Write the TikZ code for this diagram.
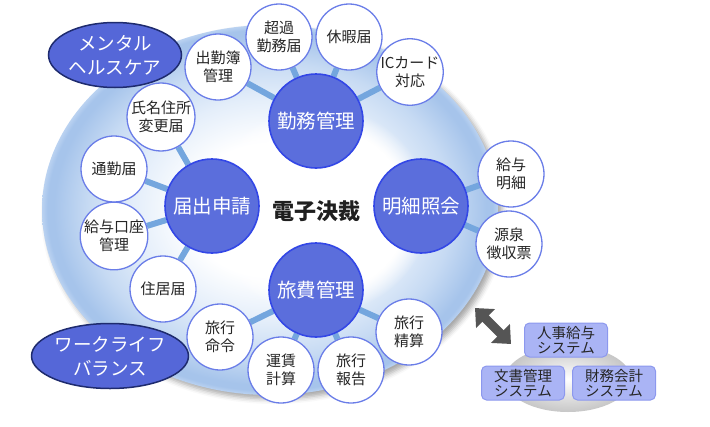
\documentclass[tikz,border=0pt]{standalone}
\usepackage{fontspec}
\setmainfont{Noto Sans CJK JP}
\usetikzlibrary{arrows.meta,shapes.geometric,shadows.blur,fadings}
\definecolor{bigfill}{HTML}{5B6EDC}
\definecolor{bigedge}{HTML}{3347E6}
\definecolor{smalledge}{HTML}{6A7DE8}
\definecolor{linkc}{HTML}{74A6DE}
\definecolor{ovalfill}{HTML}{5567D8}
\definecolor{ovaledge}{HTML}{1E2B6E}
\definecolor{sysfill}{HTML}{AAB4F5}
\definecolor{sysedge}{HTML}{8C98EE}
\definecolor{txt}{HTML}{262626}
\definecolor{arrowc}{HTML}{555555}
\definecolor{ringA}{HTML}{E4EEFA}
\definecolor{ringB}{HTML}{C6DAF3}
\definecolor{ringC}{HTML}{A6C4EB}
\definecolor{ringD}{HTML}{BAD2F1}
\pgfdeclareradialshading{ringshade}{\pgfpointorigin}{color(0bp)=(white); color(9bp)=(white); color(15bp)=(ringA); color(20bp)=(ringB); color(23.7bp)=(ringC); color(24.4bp)=(ringC); color(25bp)=(ringD); color(50bp)=(ringD)}
\pgfdeclarelayer{ringlayer}
\pgfdeclarelayer{linklayer}
\pgfsetlayers{ringlayer,linklayer,main}
\begin{document}
\begin{tikzpicture}[x=1pt,y=-1pt,
  big/.style={circle, fill=bigfill, draw=bigedge, line width=1.6pt, minimum size=94pt, inner sep=0pt, text=white, font=\fontsize{19.5}{22}\selectfont},
  small/.style={circle, fill=white, draw=smalledge, line width=1.3pt, minimum size=66pt, inner sep=0pt, text=txt, align=center, font=\fontsize{15}{18}\selectfont},
  link/.style={draw=linkc, line width=6pt},
  oval/.style={ellipse, fill=ovalfill, draw=ovaledge, line width=1.5pt, minimum width=133pt, minimum height=65pt, inner sep=0pt, text=white, align=center, font=\fontsize{18.5}{24}\selectfont},
  sysbox/.style={rounded corners=5pt, fill=sysfill, draw=sysedge, line width=1pt, minimum width=83pt, minimum height=34pt, inner sep=0pt, align=center, text=txt, font=\fontsize{14.5}{15}\selectfont}]
\useasboundingbox (0,0) rectangle (710,426);
% ring
\begin{pgfonlayer}{ringlayer}
\shade[shading=ringshade, blur shadow={shadow xshift=4pt, shadow yshift=-4pt, shadow blur radius=5pt, shadow opacity=35}] (270,210) ellipse [x radius=228, y radius=185];
\fill[white, path fading=circle with fuzzy edge 20 percent] (318,210) ellipse [x radius=112, y radius=104];
\end{pgfonlayer}
% big circles
\node[big] (kinmu) at (316,121) {勤務管理};
\node[big] (todoke) at (212,206) {届出申請};
\node[big] (meisai) at (421,206) {明細照会};
\node[big] (ryohi) at (316,290) {旅費管理};
% small circles
\node[small] (choka) at (279,37) {超過\\勤務届};
\node[small] (kyuka) at (349,37) {休暇届};
\node[small] (ic) at (410,72) {ICカード\\対応};
\node[small] (shukkin) at (218,67) {出勤簿\\管理};
\node[small] (shimei) at (161,117) {氏名住所\\変更届};
\node[small] (tsukin) at (114,169) {通勤届};
\node[small] (koza) at (114,236) {給与口座\\管理};
\node[small] (jukyo) at (163,289) {住居届};
\node[small] (meirei) at (220,337) {旅行\\命令};
\node[small] (unchin) at (281,370) {運賃\\計算};
\node[small] (hokoku) at (351,370) {旅行\\報告};
\node[small] (seisan) at (409,332) {旅行\\精算};
\node[small] (kyuyo) at (511,174) {給与\\明細};
\node[small] (gensen) at (509,244) {源泉\\徴収票};
% links behind nodes
\begin{pgfonlayer}{linklayer}
\foreach \a/\b in {kinmu/choka, kinmu/kyuka, kinmu/ic, kinmu/shukkin, todoke/shimei, todoke/tsukin, todoke/koza, todoke/jukyo, meisai/kyuyo, meisai/gensen, ryohi/meirei, ryohi/unchin, ryohi/hokoku, ryohi/seisan}
  \draw[link] (\a) -- (\b);
\end{pgfonlayer}
% center
\node[font=\bfseries\fontsize{22}{26}\selectfont, text=black!88] (center) at (316,211) {電子決裁};
% ovals
\node[oval] (mental) at (115,55) {メンタル\\ヘルスケア};
\node[oval] (wlb) at (110,356) {ワークライフ\\バランス};
% systems
\shade[inner color=white, outer color=black!22] (568,379) ellipse [x radius=63, y radius=33];
\node[sysbox] (jinji) at (566,340) {人事給与\\システム};
\node[sysbox] (bunsho) at (523,383) {文書管理\\システム};
\node[sysbox] (zaimu) at (614,383) {財務会計\\システム};
% arrow
\coordinate (a1) at (475,308);
\coordinate (a2) at (511,344);
\draw[arrowc, line width=9pt, {Triangle[width=26pt,length=15pt]}-{Triangle[width=26pt,length=15pt]}] (a1) -- (a2);
\end{tikzpicture}
\end{document}
